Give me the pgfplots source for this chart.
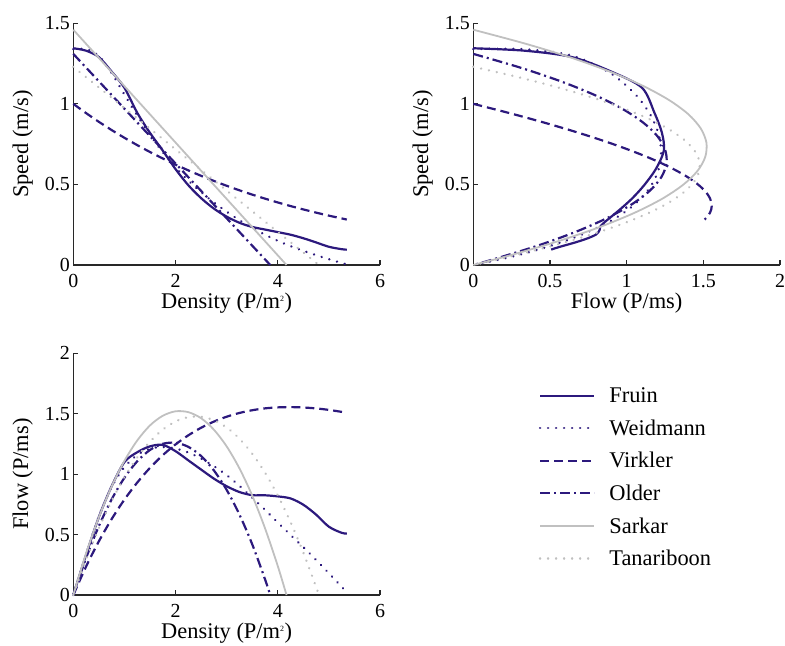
\documentclass[border=0pt]{standalone}
\usepackage{fontspec}
\setmainfont{Liberation Serif}
\usepackage{pgfplots}
\usepackage{pgfplotstable}
\pgfplotsset{compat=1.18}

\definecolor{navy}{RGB}{44,25,125}
\definecolor{lgray}{RGB}{192,192,192}
\definecolor{axgray}{RGB}{40,40,40}
\newcommand{\fs}{\fontsize{20}{24}\selectfont}
\newcommand{\fl}{\fontsize{22.5}{27}\selectfont}

% density k (P/m^2), speed v (m/s), flow q (P/ms)
\pgfplotstableread{
k v q
0 1.345 0
0.25 1.33 0.3325
0.5 1.29 0.645
0.75 1.20 0.90
1.0 1.10 1.10
1.25 0.945 1.181
1.5 0.82 1.23
1.75 0.71 1.2425
2.0 0.595 1.19
2.25 0.495 1.114
2.5 0.415 1.038
2.75 0.35 0.963
3.0 0.30 0.90
3.25 0.262 0.852
3.5 0.236 0.826
3.75 0.22 0.825
4.0 0.204 0.816
4.25 0.188 0.799
4.5 0.166 0.747
4.75 0.14 0.665
5.0 0.113 0.565
5.25 0.098 0.5145
5.35 0.095 0.508
}\fruin

\pgfplotstableread{
k v q
0 1.34 0
0.25 1.339 0.3348
0.5 1.298 0.649
0.75 1.191 0.893
1.0 1.058 1.058
1.25 0.927 1.158
1.5 0.807 1.210
1.75 0.700 1.225
2.0 0.606 1.212
2.25 0.524 1.179
2.5 0.452 1.129
2.75 0.388 1.066
3.0 0.331 0.992
3.25 0.278 0.904
3.5 0.230 0.805
3.75 0.188 0.705
4.0 0.150 0.600
4.25 0.117 0.497
4.5 0.088 0.396
4.75 0.061 0.290
5.0 0.036 0.180
5.25 0.013 0.068
5.35 0.004 0.021
}\weid

\pgfplotstableread{
k v q
0 1.0 0
0.25 0.9426 0.2357
0.5 0.8884 0.4442
0.75 0.8374 0.6281
1.0 0.7893 0.7893
1.25 0.7440 0.9300
1.5 0.7012 1.0518
1.75 0.6610 1.1568
2.0 0.6230 1.2460
2.25 0.5872 1.3212
2.5 0.5535 1.3838
2.75 0.5217 1.4347
3.0 0.4917 1.4751
3.25 0.4635 1.5064
3.5 0.4369 1.5288
3.75 0.4118 1.5443
4.0 0.3881 1.5524
4.25 0.3658 1.5547
4.5 0.3448 1.5516
4.75 0.3250 1.5438
5.0 0.3063 1.5315
5.35 0.2820 1.5087
}\virk

\pgfplotstableread{
k v q
0 1.31 0
0.25 1.225 0.306
0.5 1.14 0.57
0.75 1.055 0.791
1.0 0.97 0.97
1.25 0.885 1.106
1.5 0.8 1.2
1.75 0.715 1.251
2.0 0.63 1.26
2.25 0.545 1.226
2.5 0.46 1.15
2.75 0.375 1.031
3.0 0.29 0.87
3.25 0.205 0.666
3.5 0.12 0.42
3.75 0.035 0.131
3.853 0 0
}\older

\pgfplotstableread{
k v q
0 1.46 0
0.25 1.3725 0.343
0.5 1.285 0.643
0.75 1.1975 0.898
1.0 1.11 1.11
1.25 1.0225 1.278
1.5 0.935 1.403
1.75 0.8475 1.483
2.0 0.76 1.52
2.25 0.6725 1.513
2.5 0.585 1.463
2.75 0.4975 1.368
3.0 0.41 1.23
3.25 0.3225 1.048
3.5 0.235 0.823
3.75 0.1475 0.553
4.0 0.06 0.24
4.171 0 0
}\sark

\pgfplotstableread{
k v q
0 1.23 0
0.25 1.166 0.2915
0.5 1.102 0.551
0.75 1.038 0.7785
1.0 0.974 0.974
1.25 0.91 1.1375
1.5 0.846 1.269
1.75 0.782 1.3685
2.0 0.718 1.436
2.25 0.654 1.4715
2.5 0.59 1.475
2.75 0.526 1.4465
3.0 0.462 1.386
3.25 0.398 1.2935
3.5 0.334 1.169
3.75 0.27 1.0125
4.0 0.206 0.824
4.25 0.142 0.6035
4.5 0.078 0.351
4.75 0.014 0.0665
4.805 0 0
}\tana

\pgfplotsset{
  fd/.style={
    scale only axis, width=306.7bp, height=241.7bp,
    axis x line*=bottom, axis y line*=left,
    axis line style={line width=1.6bp, axgray},
    tick align=inside, major tick length=5bp,
    tick style={line width=1.2bp, axgray},
    every tick label/.append style={font=\fs},
    /pgf/number format/assume math mode=true,
    label style={font=\fl},
    xlabel style={at={(axis description cs:0.5,-0.181)}, anchor=base},
    ylabel style={at={(axis description cs:-0.165,0.5)}, anchor=center},
    xticklabel style={yshift=-6bp},
    enlargelimits=false, clip=false,
  },
  sfruin/.style={navy, line width=2.2bp, solid},
  sweid/.style={navy, line width=2.6bp, line cap=round, dash pattern=on 0.01bp off 8bp},
  svirk/.style={navy, line width=2.2bp, dash pattern=on 9bp off 5bp},
  solder/.style={navy, line width=2.2bp, dash pattern=on 10bp off 4bp on 2bp off 4bp},
  ssark/.style={lgray, line width=1.8bp, solid},
  stana/.style={lgray, line width=2.6bp, line cap=round, dash pattern=on 0.01bp off 8bp},
}

\begin{document}
\begin{tikzpicture}[x=1bp,y=1bp]
\path[use as bounding box] (0,0) rectangle (785,646);

% speed vs density
\begin{axis}[fd, at={(73.3bp,381bp)}, anchor=south west,
  xmin=0, xmax=6, ymin=0, ymax=1.5,
  xtick={0,2,4,6}, ytick={0,0.5,1,1.5},
  xlabel={Density (P/m\textsuperscript{\footnotesize 2})}, ylabel={Speed (m/s)}]
\addplot[sfruin, smooth] table[x=k,y=v]{\fruin};
\addplot[sweid, smooth] table[x=k,y=v]{\weid};
\addplot[svirk, smooth] table[x=k,y=v]{\virk};
\addplot[solder] table[x=k,y=v]{\older};
\addplot[ssark] table[x=k,y=v]{\sark};
\addplot[stana] table[x=k,y=v]{\tana};
\end{axis}

% speed vs flow
\begin{axis}[fd, at={(473.3bp,381bp)}, anchor=south west,
  xmin=0, xmax=2, ymin=0, ymax=1.5,
  xtick={0,0.5,1,1.5,2}, ytick={0,0.5,1,1.5},
  xlabel={Flow (P/ms)}, ylabel={Speed (m/s)}]
\addplot[sfruin, smooth] table[x=q,y=v]{\fruin};
\addplot[sweid, smooth] table[x=q,y=v]{\weid};
\addplot[svirk, smooth] table[x=q,y=v]{\virk};
\addplot[solder, smooth] table[x=q,y=v]{\older};
\addplot[ssark, smooth] table[x=q,y=v]{\sark};
\addplot[stana, smooth] table[x=q,y=v]{\tana};
\end{axis}

% flow vs density
\begin{axis}[fd, at={(73.3bp,51bp)}, anchor=south west,
  xmin=0, xmax=6, ymin=0, ymax=2,
  xtick={0,2,4,6}, ytick={0,0.5,1,1.5,2},
  xlabel={Density (P/m\textsuperscript{\footnotesize 2})}, ylabel={Flow (P/ms)},
  legend style={at={(1.517,0.867)}, anchor=north west, draw=none, fill=none,
    font=\fl, row sep=11.6bp, inner sep=0pt,
    /tikz/every odd column/.append style={column sep=12bp}},
  legend cell align=left,
  legend image code/.code={\draw[#1] (0bp,0bp) -- (54bp,0bp);}]
\addplot[sfruin, smooth] table[x=k,y=q]{\fruin};
\addlegendentry{Fruin}
\addplot[sweid, smooth] table[x=k,y=q]{\weid};
\addlegendentry{Weidmann}
\addplot[svirk, smooth] table[x=k,y=q]{\virk};
\addlegendentry{Virkler}
\addplot[solder, smooth] table[x=k,y=q]{\older};
\addlegendentry{Older}
\addplot[ssark, smooth] table[x=k,y=q]{\sark};
\addlegendentry{Sarkar}
\addplot[stana, smooth] table[x=k,y=q]{\tana};
\addlegendentry{Tanariboon}
\end{axis}
\end{tikzpicture}
\end{document}
